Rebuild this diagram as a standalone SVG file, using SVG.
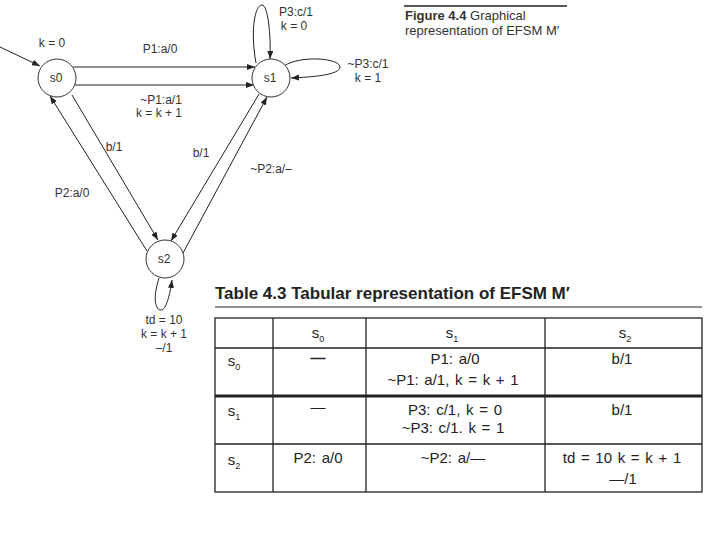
<svg xmlns="http://www.w3.org/2000/svg" width="720" height="540" viewBox="0 0 720 540">
<style>
.bg{fill:#fff}
.node{fill:#fff;stroke:#333;stroke-width:1}
.edge{fill:none;stroke:#222;stroke-width:1}
.lbl{font-family:"Liberation Sans",Arial,sans-serif;font-size:12px;fill:#333;text-anchor:middle}
.cap{font-family:"Liberation Sans",Arial,sans-serif;font-size:13px;fill:#333}
.ttl{font-family:"Liberation Sans",Arial,sans-serif;font-size:17px;font-weight:bold;fill:#222}
.cell{font-family:"Liberation Sans",Arial,sans-serif;font-size:15px;fill:#222;text-anchor:middle;word-spacing:1.5px}
.grid{fill:none;stroke:#222;stroke-width:1.3}
</style>
<defs>
<marker id="arr" markerUnits="userSpaceOnUse" markerWidth="9" markerHeight="7" refX="8" refY="3" orient="auto">
<path d="M0,0 L8,3 L0,6 z" fill="#222"/>
</marker>
</defs>
<rect class="bg" x="0" y="0" width="720" height="540"/>

<g id="connectors">
<path class="edge" d="M0,47 L40,66" marker-end="url(#arr)"/>
<path class="edge" d="M73,67 L255,67" marker-end="url(#arr)"/>
<path class="edge" d="M74,85 L254,85" marker-end="url(#arr)"/>
<path class="edge" d="M256,63 C250,30 255,5 262,5 C268,5 271,35 270,59" marker-end="url(#arr)"/>
<path class="edge" d="M284,66 C300,55 340,58 340,67 C340,75 312,77 291,78" marker-end="url(#arr)"/>
<path class="edge" d="M72,95 L158,240" marker-end="url(#arr)"/>
<path class="edge" d="M147,251 L50,96" marker-end="url(#arr)"/>
<path class="edge" d="M259,94 L171,241" marker-end="url(#arr)"/>
<path class="edge" d="M183,253 L267,97" marker-end="url(#arr)"/>
<path class="edge" d="M159,278 C152,300 156,310 161,310 C166,310 170,295 172,280" marker-end="url(#arr)"/>
<text class="lbl" x="52" y="47">k = 0</text>
<text class="lbl" x="160" y="53">P1:a/0</text>
<text class="lbl" x="161" y="104">~P1:a/1</text>
<text class="lbl" x="159" y="117">k = k + 1</text>
<text class="lbl" x="296" y="16">P3:c/1</text>
<text class="lbl" x="294" y="30">k = 0</text>
<text class="lbl" x="368" y="68">~P3:c/1</text>
<text class="lbl" x="368" y="82">k = 1</text>
<text class="lbl" x="114" y="151">b/1</text>
<text class="lbl" x="201" y="157">b/1</text>
<text class="lbl" x="72" y="197">P2:a/0</text>
<text class="lbl" x="271" y="173">~P2:a/–</text>
<text class="lbl" x="164" y="324">td = 10</text>
<text class="lbl" x="164" y="338">k = k + 1</text>
<text class="lbl" x="164" y="352">–/1</text>
</g>

<g id="s0">
<circle class="node" cx="57" cy="78" r="19"/>
<text class="lbl" x="56" y="82">s0</text>
</g>
<g id="s1">
<circle class="node" cx="271" cy="78" r="19"/>
<text class="lbl" x="270" y="82">s1</text>
</g>
<g id="s2">
<circle class="node" cx="165" cy="259" r="19"/>
<text class="lbl" x="164" y="263">s2</text>
</g>

<g id="caption">
<line x1="404" y1="6" x2="567" y2="6" stroke="#222" stroke-width="1.3"/>
<text class="cap" x="405" y="20"><tspan font-weight="bold">Figure 4.4</tspan> Graphical</text>
<text class="cap" x="405" y="35">representation of EFSM M′</text>
</g>

<g id="table">
<text class="ttl" x="215" y="299">Table 4.3 Tabular representation of EFSM M′</text>
<line x1="215" y1="307" x2="702" y2="307" stroke="#222" stroke-width="1.2"/>
<rect class="grid" x="215" y="318" width="487" height="174"/>
<line class="grid" x1="273" y1="318" x2="273" y2="492"/>
<line class="grid" x1="366" y1="318" x2="366" y2="492"/>
<line class="grid" x1="545" y1="318" x2="545" y2="492"/>
<line class="grid" x1="215" y1="348" x2="702" y2="348"/>
<line x1="215" y1="396" x2="702" y2="396" stroke="#222" stroke-width="3"/>
<line class="grid" x1="215" y1="444" x2="702" y2="444"/>

<text class="cell" x="318" y="338">s<tspan font-size="9" dy="4">0</tspan></text>
<text class="cell" x="452" y="338">s<tspan font-size="9" dy="4">1</tspan></text>
<text class="cell" x="625" y="338">s<tspan font-size="9" dy="4">2</tspan></text>

<text class="cell" x="234" y="366">s<tspan font-size="9" dy="4">0</tspan></text>
<text class="cell" x="318" y="363" font-weight="bold">—</text>
<text class="cell" x="455" y="364">P1: a/0</text>
<text class="cell" x="453" y="385">~P1: a/1, k = k + 1</text>
<text class="cell" x="622" y="364">b/1</text>

<text class="cell" x="234" y="416">s<tspan font-size="9" dy="4">1</tspan></text>
<text class="cell" x="318" y="412">—</text>
<text class="cell" x="455" y="415">P3: c/1, k = 0</text>
<text class="cell" x="453" y="433">~P3: c/1. k = 1</text>
<text class="cell" x="622" y="415">b/1</text>

<text class="cell" x="234" y="465">s<tspan font-size="9" dy="4">2</tspan></text>
<text class="cell" x="318" y="463">P2: a/0</text>
<text class="cell" x="453" y="463">~P2: a/—</text>
<text class="cell" x="622" y="463">td = 10 k = k + 1</text>
<text class="cell" x="623" y="484">—/1</text>
</g>
</svg>
